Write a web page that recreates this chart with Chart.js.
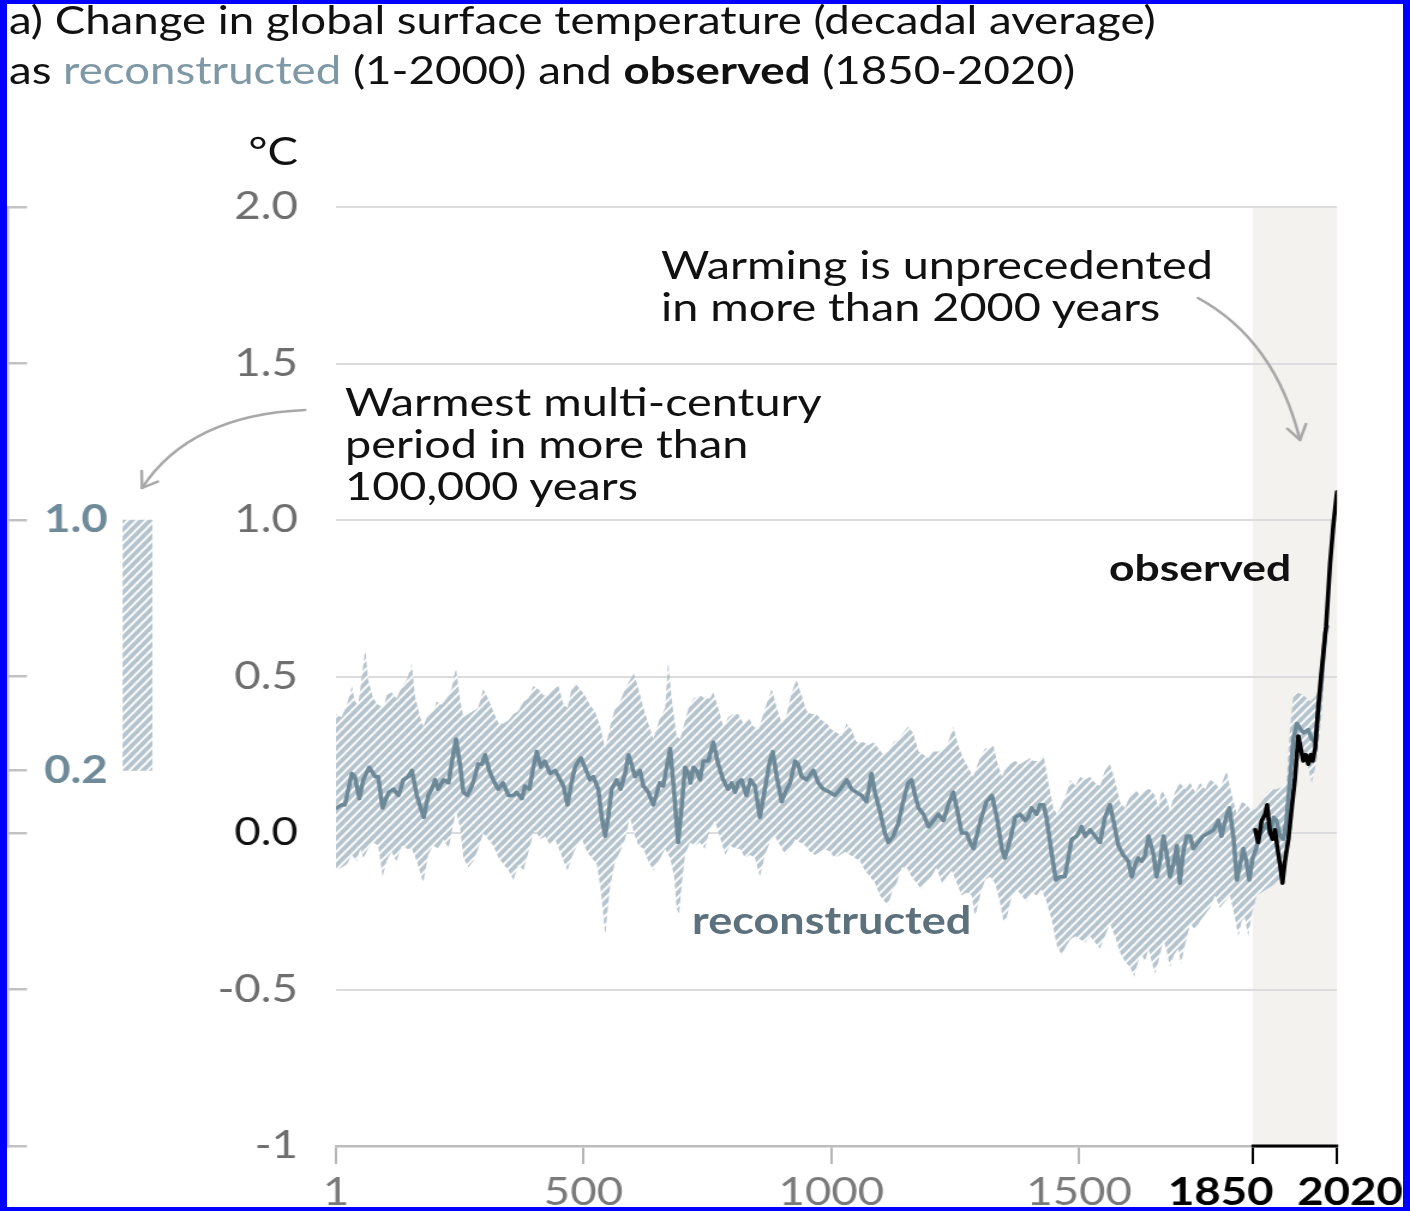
<!DOCTYPE html>
<html>
<head>
<meta charset="utf-8">
<title>Change in global surface temperature</title>
<script src="https://cdn.jsdelivr.net/npm/chart.js@4.4.1/dist/chart.umd.min.js"></script>
<style>
  html, body { margin: 0; padding: 0; background: #fff; }
  body { width: 1410px; height: 1211px; overflow: hidden; position: relative; font-family: Lato, sans-serif; }
  #stage { position: absolute; left: 0; top: 0; height: 1211px; transform-origin: 0 0; }
  #stage canvas { position: absolute; left: 0; top: 0; }
  .t { position: absolute; white-space: nowrap; color: #111; font-family: Lato, sans-serif; }
  #frame { position: absolute; left: 0; top: 0; width: 1410px; height: 1211px; box-sizing: border-box;
           border-style: solid; border-color: #0000ff; border-width: 4px 7px 4px 7px; pointer-events: none; z-index: 5; }
</style>
</head>
<body>
<div id="stage">
  <canvas id="main"></canvas>
  <canvas id="side"></canvas>
  <div class="t" id="title" style="left:7.5px; top:-5.7px; font-size:38px; line-height:50px;">a) Change in global surface temperature (decadal average)<br>as <span style="color:#7e98a6">reconstructed</span> (1-2000) and <b>observed</b> (1850-2020)</div>
  <div class="t" style="left:148.3px; width:100px; text-align:right; top:127.5px; font-size:38px; line-height:45.6px;">°C</div>
  <div class="t" style="left:550.8px; top:242.9px; font-size:39px; line-height:42px;">Warming is unprecedented<br>in more than 2000 years</div>
  <div class="t" style="left:287.5px; top:379.9px; font-size:39px; line-height:42px;">Warmest multi-century<br>period in more than<br>100,000 years</div>
  <div class="t" style="left:924.2px; top:545.7px; font-size:37px; line-height:42px; font-weight:bold;">observed</div>
  <div class="t" style="left:576.7px; top:899.4px; font-size:37.5px; line-height:42px; font-weight:bold; color:#5c717c;">reconstructed</div>
</div>
<div id="frame"></div>

<script>
// Horizontal stretch of the whole panel (layout numbers below are in final pixels)
const SX = 1.2;

// ---------- data ----------
// Reconstructed decadal median (years CE, °C relative to 1850-1900)
const reconYears = [
  2,12,19,33,39,48,56,68,80,86,
  95,107,117,127,137,147,154,164,178,187,
  194,201,207,218,228,234,243,251,258,266,
  275,281,288,295,302,310,318,328,338,349,
  359,365,376,382,391,399,406,414,422,433,
  443,453,460,468,476,483,490,495,503,513,
  520,530,537,544,550,557,567,575,584,591,
  597,604,614,621,631,641,654,661,668,675,
  683,691,698,705,712,716,722,728,735,742,
  752,762,772,782,792,799,806,812,819,829,
  837,846,856,866,876,882,890,900,907,917,
  927,933,940,950,964,974,984,997,1007,1018,
  1031,1041,1051,1061,1071,1081,1088,1098,1108,1115,
  1125,1135,1145,1155,1162,1169,1176,1186,1196,1206,
  1216,1226,1236,1246,1253,1263,1273,1280,1287,1293,
  1303,1313,1324,1334,1344,1350,1361,1371,1381,1391,
  1397,1404,1414,1421,1428,1434,1445,1453,1461,1471,
  1478,1485,1495,1505,1512,1522,1532,1542,1552,1562,
  1569,1579,1589,1599,1606,1613,1619,1626,1633,1640,
  1650,1656,1663,1670,1677,1683,1690,1697,1703,1710,
  1717,1724,1730,1740,1750,1761,1771,1781,1787,1798,
  1803,1811,1818,1826,1831,1837,1843,1850,1857,1863,
  1871,1878,1885,1892,1898,1905,1912,1918,1925,1932,
  1939,1947,1953,1962,1969,1976,1982,1989,1996,2000
];
const reconMedian = [
  0.08,0.09,0.09,0.19,0.18,0.11,0.17,0.21,0.18,0.18,
  0.08,0.13,0.14,0.12,0.17,0.18,0.20,0.12,0.05,0.12,
  0.14,0.17,0.14,0.17,0.16,0.22,0.30,0.22,0.13,0.12,
  0.15,0.18,0.22,0.22,0.25,0.20,0.17,0.14,0.16,0.12,
  0.12,0.13,0.11,0.15,0.14,0.21,0.26,0.21,0.23,0.19,
  0.20,0.17,0.15,0.09,0.16,0.21,0.23,0.24,0.21,0.17,
  0.18,0.14,0.05,-0.01,0.05,0.14,0.17,0.14,0.19,0.25,
  0.22,0.18,0.20,0.15,0.13,0.09,0.16,0.15,0.21,0.27,
  0.13,-0.03,0.08,0.21,0.19,0.16,0.21,0.20,0.17,0.23,
  0.23,0.29,0.22,0.17,0.14,0.16,0.13,0.16,0.17,0.12,
  0.17,0.15,0.05,0.14,0.23,0.26,0.18,0.10,0.13,0.16,
  0.23,0.22,0.18,0.17,0.20,0.16,0.14,0.13,0.12,0.14,
  0.17,0.14,0.13,0.12,0.10,0.19,0.13,0.07,0.00,-0.03,
  -0.01,0.03,0.10,0.16,0.17,0.12,0.08,0.06,0.02,0.04,
  0.06,0.04,0.09,0.13,0.08,0.00,0.00,-0.03,-0.05,-0.01,
  0.05,0.10,0.12,0.05,-0.05,-0.08,-0.02,0.05,0.06,0.04,
  0.05,0.08,0.06,0.09,0.09,0.05,-0.07,-0.15,-0.14,-0.14,
  -0.08,-0.02,-0.01,0.02,-0.01,0.01,-0.01,-0.03,0.05,0.09,
  0.04,-0.04,-0.07,-0.09,-0.14,-0.10,-0.08,-0.09,-0.07,-0.01,
  -0.07,-0.14,-0.09,-0.01,-0.07,-0.14,-0.10,-0.04,-0.16,-0.06,
  -0.01,-0.01,-0.05,-0.03,-0.01,0.00,0.01,0.04,-0.01,0.06,
  0.08,-0.01,-0.15,-0.09,-0.05,-0.09,-0.15,-0.08,-0.05,-0.01,
  0.01,0.03,0.00,0.05,0.04,-0.01,-0.02,0.04,0.17,0.30,
  0.35,0.33,0.32,0.33,0.30,0.29,0.38,0.49,0.64,0.66
];

// Upper edge of the reconstruction's very likely range
const bandUpperYears = [
  1,12,23,33,39,46,53,60,66,76,
  86,97,103,113,123,134,144,154,160,171,
  177,187,197,204,214,224,234,243,251,258,
  268,278,288,298,308,318,329,339,349,359,
  369,379,389,399,409,419,429,439,450,460,
  468,476,483,493,503,513,523,534,544,554,
  564,574,584,594,602,611,621,631,641,655,
  665,671,678,688,695,702,712,722,735,745,
  755,762,772,782,792,802,812,823,833,843,
  853,863,873,880,890,900,910,920,930,940,
  950,960,970,981,991,1001,1011,1021,1031,1041,
  1051,1065,1075,1085,1095,1105,1115,1125,1135,1145,
  1155,1165,1176,1186,1196,1206,1216,1226,1236,1246,
  1256,1266,1276,1286,1300,1310,1320,1327,1334,1344,
  1350,1360,1371,1381,1391,1401,1408,1418,1428,1438,
  1448,1455,1465,1475,1482,1492,1502,1512,1522,1532,
  1542,1552,1562,1572,1582,1592,1603,1613,1623,1633,
  1643,1653,1660,1666,1676,1683,1693,1703,1714,1724,
  1734,1744,1754,1764,1774,1784,1797,1808,1818,1828,
  1838,1848,1858,1868,1878,1888,1898,1912,1918,1925,
  1932,1939,1952,1966,1979,1986,1992,2000
];
const bandUpper = [
  0.38,0.37,0.41,0.47,0.42,0.41,0.50,0.59,0.49,0.43,
  0.41,0.40,0.44,0.45,0.43,0.47,0.49,0.54,0.44,0.37,
  0.34,0.38,0.39,0.42,0.41,0.43,0.46,0.53,0.43,0.37,
  0.38,0.39,0.40,0.46,0.43,0.39,0.35,0.35,0.36,0.38,
  0.39,0.42,0.43,0.47,0.46,0.44,0.44,0.46,0.47,0.41,
  0.40,0.46,0.48,0.46,0.44,0.41,0.39,0.34,0.27,0.34,
  0.40,0.42,0.46,0.49,0.51,0.46,0.40,0.35,0.30,0.37,
  0.40,0.55,0.43,0.31,0.30,0.34,0.40,0.43,0.44,0.43,
  0.43,0.45,0.40,0.34,0.37,0.38,0.38,0.35,0.37,0.34,
  0.33,0.38,0.43,0.46,0.40,0.35,0.38,0.45,0.49,0.44,
  0.39,0.38,0.38,0.36,0.35,0.33,0.32,0.31,0.35,0.33,
  0.29,0.29,0.28,0.29,0.27,0.25,0.26,0.29,0.30,0.32,
  0.34,0.32,0.26,0.25,0.24,0.26,0.26,0.27,0.29,0.34,
  0.28,0.24,0.21,0.18,0.24,0.27,0.27,0.28,0.23,0.18,
  0.20,0.22,0.23,0.22,0.23,0.24,0.23,0.23,0.25,0.16,
  0.08,0.06,0.09,0.13,0.17,0.15,0.18,0.17,0.18,0.16,
  0.15,0.20,0.22,0.17,0.10,0.08,0.12,0.14,0.12,0.14,
  0.14,0.12,0.08,0.14,0.11,0.07,0.13,0.16,0.14,0.16,
  0.13,0.16,0.14,0.17,0.16,0.14,0.20,0.12,0.06,0.10,
  0.09,0.07,0.08,0.10,0.13,0.14,0.14,0.15,0.16,0.33,
  0.44,0.45,0.44,0.42,0.44,0.50,0.59,0.66
];

// Lower edge of the reconstruction's very likely range
const bandLowerYears = [
  1,12,23,33,43,50,56,66,76,86,
  95,103,113,123,134,144,154,164,177,187,
  197,207,218,228,234,243,251,258,268,278,
  288,298,308,318,329,339,349,359,369,379,
  386,396,402,413,423,433,443,453,460,468,
  476,487,497,507,517,527,534,540,544,548,
  554,564,574,584,594,602,611,621,631,641,
  655,665,675,683,688,693,698,705,715,725,
  735,745,755,765,775,786,796,806,816,826,
  836,846,856,866,876,886,897,907,917,927,
  937,947,957,967,977,987,997,1007,1018,1028,
  1038,1048,1058,1068,1078,1088,1098,1108,1115,1122,
  1132,1142,1152,1162,1172,1182,1192,1202,1212,1223,
  1233,1243,1253,1263,1273,1283,1290,1300,1310,1320,
  1330,1340,1347,1354,1364,1374,1384,1394,1404,1414,
  1424,1434,1445,1455,1465,1471,1482,1492,1502,1512,
  1522,1532,1542,1552,1562,1572,1582,1592,1603,1611,
  1619,1626,1633,1640,1646,1653,1660,1670,1677,1683,
  1691,1700,1705,1713,1724,1734,1744,1754,1764,1774,
  1784,1794,1804,1814,1821,1828,1834,1841,1848,1858,
  1868,1878,1888,1898,1912,1918,1929,1935,1945,1959,
  1969,1979,1989,2000
];
const bandLower = [
  -0.12,-0.11,-0.10,-0.07,-0.09,-0.05,-0.08,-0.05,-0.03,-0.04,
  -0.14,-0.09,-0.06,-0.09,-0.04,-0.05,-0.05,-0.09,-0.16,-0.07,
  -0.04,-0.05,-0.02,-0.05,0.00,0.07,0.02,-0.08,-0.11,-0.09,
  -0.05,0.00,-0.02,-0.04,-0.08,-0.10,-0.12,-0.15,-0.10,-0.12,
  -0.08,-0.02,0.01,-0.02,-0.01,-0.04,-0.02,-0.06,-0.09,-0.12,
  -0.08,-0.04,-0.02,-0.06,-0.08,-0.10,-0.17,-0.26,-0.33,-0.26,
  -0.17,-0.09,-0.06,-0.02,0.05,0.00,-0.04,-0.05,-0.09,-0.12,
  -0.08,-0.05,-0.08,-0.14,-0.24,-0.26,-0.17,-0.07,-0.03,-0.04,
  -0.03,-0.05,0.01,0.04,-0.01,-0.07,-0.04,-0.05,-0.05,-0.08,
  -0.07,-0.08,-0.14,-0.07,-0.03,-0.01,-0.04,-0.07,-0.05,-0.02,
  -0.03,-0.04,-0.06,-0.07,-0.06,-0.05,-0.06,-0.08,-0.07,-0.06,
  -0.07,-0.08,-0.09,-0.12,-0.14,-0.16,-0.20,-0.22,-0.23,-0.19,
  -0.16,-0.11,-0.11,-0.14,-0.16,-0.18,-0.16,-0.14,-0.11,-0.16,
  -0.14,-0.12,-0.16,-0.20,-0.19,-0.20,-0.27,-0.20,-0.15,-0.14,
  -0.16,-0.22,-0.28,-0.27,-0.20,-0.18,-0.20,-0.22,-0.19,-0.20,
  -0.18,-0.22,-0.28,-0.36,-0.39,-0.37,-0.34,-0.33,-0.34,-0.35,
  -0.33,-0.35,-0.37,-0.33,-0.29,-0.33,-0.38,-0.41,-0.43,-0.46,
  -0.41,-0.39,-0.41,-0.37,-0.41,-0.45,-0.41,-0.34,-0.38,-0.43,
  -0.39,-0.37,-0.42,-0.36,-0.29,-0.31,-0.28,-0.26,-0.24,-0.20,
  -0.24,-0.22,-0.20,-0.27,-0.33,-0.28,-0.27,-0.33,-0.26,-0.20,
  -0.19,-0.18,-0.17,-0.16,-0.14,-0.09,0.01,0.16,0.25,0.23,
  0.16,0.23,0.38,0.64
];

// Observed decadal means
const obsYears = [1855,1861,1868,1875,1879,1885,1890,1895,1900,1905,1910,1915,1922,1928,1935,
                  1942,1947,1952,1957,1962,1967,1971,1976,1982,1989,1998,2006,2013,2020];
const observed = [0.01,-0.03,0.04,0.06,0.09,0.00,-0.02,0.01,-0.05,-0.10,-0.16,-0.09,-0.02,0.07,0.17,
                  0.31,0.27,0.23,0.25,0.22,0.25,0.23,0.27,0.40,0.52,0.66,0.86,0.99,1.09];

// Warmest multi-century period (range, °C)
const warmestRange = [0.2, 1.0];

// Axes
const yTicks = [-1, -0.5, 0, 0.5, 1, 1.5, 2];
const xTicks = [1, 500, 1000, 1500, 1850, 2020];
const observedSpan = [1850, 2020];

// ---------- helpers ----------
const W = 1410 / SX, H = 1211;
const px = v => v / SX;             // horizontal final-pixel -> stage pixel
const toPts = (xs, ys) => xs.map((x, i) => ({ x, y: ys[i] }));

function makeHatch() {
  const t = document.createElement('canvas');
  t.width = 9; t.height = 9;
  const g = t.getContext('2d');
  g.fillStyle = '#b6c4cd';
  g.fillRect(0, 0, 9, 9);
  g.strokeStyle = '#ffffff';
  g.lineWidth = 2.1;
  g.beginPath();
  g.moveTo(-1, 1); g.lineTo(1, -1);
  g.moveTo(0, 9); g.lineTo(9, 0);
  g.moveTo(8, 10); g.lineTo(10, 8);
  g.stroke();
  const p = document.createElement('canvas').getContext('2d').createPattern(t, 'repeat');
  p.setTransform(new DOMMatrix().scale(1 / SX, 1));
  return p;
}

// curved annotation arrow, coordinates in final pixels
function curvedArrow(ctx, p0, c, p1) {
  ctx.beginPath();
  ctx.moveTo(px(p0[0]), p0[1]);
  ctx.quadraticCurveTo(px(c[0]), c[1], px(p1[0]), p1[1]);
  ctx.stroke();
  const dx = p1[0] - c[0], dy = p1[1] - c[1];
  const ang = Math.atan2(dy, dx);
  const L = 17, spread = 0.6;
  ctx.beginPath();
  for (const s of [-1, 1]) {
    const a = ang + Math.PI + s * spread;
    ctx.moveTo(px(p1[0]), p1[1]);
    ctx.lineTo(px(p1[0] + L * Math.cos(a)), p1[1] + L * Math.sin(a));
  }
  ctx.stroke();
}

const panelDecor = {
  id: 'panelDecor',
  beforeDraw(chart) {
    const { ctx, chartArea: a, scales: { x } } = chart;
    const x0 = x.getPixelForValue(observedSpan[0]);
    const x1 = x.getPixelForValue(observedSpan[1]);
    ctx.save();
    ctx.fillStyle = '#f3f2ef';
    ctx.fillRect(x0, a.top - 1, x1 - x0, a.bottom - a.top + 1);
    ctx.restore();
  },
  afterDraw(chart) {
    const { ctx, chartArea: a, scales: { x } } = chart;
    const x0 = x.getPixelForValue(observedSpan[0]);
    const x1 = x.getPixelForValue(observedSpan[1]);
    ctx.save();
    // bracket under the observed period
    ctx.strokeStyle = '#000';
    ctx.lineWidth = 3;
    ctx.beginPath();
    ctx.moveTo(x0 - 1, a.bottom);
    ctx.lineTo(x1 + 1, a.bottom);
    ctx.stroke();
    // bold period labels
    ctx.font = 'bold 38px Lato';
    ctx.fillStyle = '#000';
    ctx.textAlign = 'center';
    ctx.textBaseline = 'middle';
    ctx.fillText(String(observedSpan[0]), x0 - px(32), a.bottom + 47);
    ctx.fillText(String(observedSpan[1]), x1 + px(13), a.bottom + 47);
    // annotation arrows
    ctx.strokeStyle = '#a8a8a8';
    ctx.lineWidth = 2.5;
    ctx.lineCap = 'round';
    curvedArrow(ctx, [1198, 298], [1275, 340], [1300, 440]);
    curvedArrow(ctx, [305, 410], [190, 415], [142, 488]);
    ctx.restore();
  }
};

function draw() {
  const stage = document.getElementById('stage');
  stage.style.width = W + 'px';
  stage.style.transform = 'scaleX(' + SX + ')';

  Chart.defaults.font.family = 'Lato';
  const hatch = makeHatch();

  // ----- main panel -----
  const mainCanvas = document.getElementById('main');
  mainCanvas.width = W; mainCanvas.height = H;
  mainCanvas.style.width = W + 'px'; mainCanvas.style.height = H + 'px';

  new Chart(mainCanvas, {
    type: 'line',
    data: {
      datasets: [
        { label: 'upper', data: toPts(bandUpperYears, bandUpper), borderColor: 'rgba(0,0,0,0)', borderWidth: 0,
          pointRadius: 0, fill: false, order: 4 },
        { label: 'lower', data: toPts(bandLowerYears, bandLower), borderColor: 'rgba(0,0,0,0)', borderWidth: 0,
          pointRadius: 0, fill: '-1', backgroundColor: hatch, order: 3 },
        { label: 'reconstructed', data: toPts(reconYears, reconMedian), borderColor: '#6d8998', borderWidth: 3.6,
          pointRadius: 0, fill: false, order: 2, borderJoinStyle: 'round', borderCapStyle: 'round' },
        { label: 'observed', data: toPts(obsYears, observed), borderColor: '#000', borderWidth: 3.6,
          pointRadius: 0, fill: false, order: 1, borderJoinStyle: 'round', borderCapStyle: 'round' }
      ]
    },
    options: {
      responsive: false,
      animation: false,
      devicePixelRatio: 1,
      events: [],
      layout: { padding: { top: 207, right: px(1410 - 1337), bottom: 0, left: 0 } },
      plugins: { legend: { display: false }, tooltip: { enabled: false } },
      scales: {
        x: {
          type: 'linear', min: 1, max: 2020,
          afterBuildTicks: s => { s.ticks = xTicks.map(v => ({ value: v })); },
          afterFit: s => { s.height = 65; },
          border: { display: true, color: '#bdbdbd', width: 2.5 },
          grid: { drawOnChartArea: false, drawTicks: true, tickLength: 18, lineWidth: 2,
                  color: c => (c.tick && c.tick.value >= observedSpan[0]) ? '#000' : '#b5b5b5' },
          ticks: { autoSkip: false, maxRotation: 0, padding: 6, color: '#7a7a7a',
                   font: { family: 'Lato', size: 38 },
                   callback: v => (v < observedSpan[0] ? String(v) : '') }
        },
        y: {
          type: 'linear', min: -1, max: 2,
          afterBuildTicks: s => { s.ticks = yTicks.map(v => ({ value: v })); },
          afterFit: s => { s.width = px(336); },
          border: { display: false },
          grid: { drawTicks: false, lineWidth: 2,
                  color: c => (c.tick && c.tick.value === -1) ? 'rgba(0,0,0,0)' : '#dcdcdc' },
          ticks: { padding: px(336 - 298), font: { family: 'Lato', size: 38 },
                   color: c => (c.tick && c.tick.value === 0) ? '#111' : '#6e6e6e',
                   callback: v => (v === -1 ? '-1' : v.toFixed(1)) }
        }
      }
    },
    plugins: [panelDecor]
  });

  // ----- side panel: warmest multi-century period -----
  const sideW = 260;
  const sideCanvas = document.getElementById('side');
  sideCanvas.width = sideW; sideCanvas.height = H;
  sideCanvas.style.width = sideW + 'px'; sideCanvas.style.height = H + 'px';
  const axisX = px(8);
  const barCenter = px(137.5);
  const plotRight = 2 * barCenter - axisX;
  const sideTicks = [...yTicks, warmestRange[0]].sort((a, b) => a - b);

  new Chart(sideCanvas, {
    type: 'bar',
    data: {
      labels: ['warmest'],
      datasets: [{ data: [warmestRange], backgroundColor: hatch, borderWidth: 0, barThickness: px(29) }]
    },
    options: {
      responsive: false,
      animation: false,
      devicePixelRatio: 1,
      events: [],
      layout: { padding: { top: 207, bottom: 65, left: 0, right: sideW - plotRight } },
      plugins: { legend: { display: false }, tooltip: { enabled: false } },
      scales: {
        x: { display: false },
        y: {
          min: -1, max: 2,
          afterBuildTicks: s => { s.ticks = sideTicks.map(v => ({ value: v })); },
          afterFit: s => { s.width = axisX; },
          border: { display: true, color: '#c2c2c2', width: 2.5 },
          grid: { drawOnChartArea: false, drawTicks: true, tickLength: -px(19), color: '#c2c2c2', lineWidth: 2.5 },
          ticks: { mirror: true, padding: px(44 - 8), color: '#6f8a99',
                   font: { family: 'Lato', size: 38, weight: 'bold' },
                   callback: v => (warmestRange.includes(v) ? v.toFixed(1) : '') }
        }
      }
    }
  });
}

Promise.all([
  document.fonts.load('38px Lato'),
  document.fonts.load('bold 38px Lato')
]).then(draw, draw);
</script>
</body>
</html>
